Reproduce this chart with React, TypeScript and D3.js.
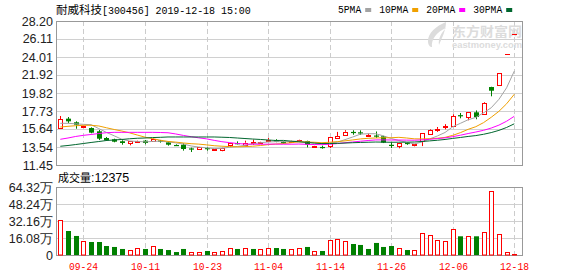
import React from "react";
import * as d3 from "d3";

const title = "耐威科技[300456] 2019-12-18 15:00";
const titleName = "耐威科技";
const titleRest = "[300456] 2019-12-18 15:00";
const volumeTitleName = "成交量";
const volumeTitleValue = ":12375";

const dates = [
  "09-19","09-20","09-23","09-24","09-25","09-26","09-27","09-30","10-08","10-09",
  "10-10","10-11","10-14","10-15","10-16","10-17","10-18","10-21","10-22","10-23",
  "10-24","10-25","10-28","10-29","10-30","10-31","11-01","11-04","11-05","11-06",
  "11-07","11-08","11-11","11-12","11-13","11-14","11-15","11-18","11-19","11-20",
  "11-21","11-22","11-25","11-26","11-27","11-28","11-29","12-02","12-03","12-04",
  "12-05","12-06","12-09","12-10","12-11","12-12","12-13","12-16","12-17","12-18",
];

const opens = [
  15.75,16.84,16.42,15.90,15.75,15.37,14.59,14.44,14.21,13.97,
  14.13,14.28,14.20,14.30,14.09,13.78,13.81,13.38,13.28,13.42,
  13.16,13.22,13.70,14.00,13.81,14.05,14.08,14.32,14.36,14.16,
  14.10,14.24,14.24,13.58,13.55,13.58,14.56,14.97,15.30,15.25,
  14.90,14.88,14.79,13.80,13.62,14.02,13.75,14.21,15.00,15.55,
  15.90,16.02,17.25,16.95,17.58,17.38,20.52,20.76,24.31,26.74,
];
const highs = [
  17.15,17.03,16.53,16.05,15.83,15.52,14.71,14.51,14.32,14.24,
  14.32,14.36,14.50,14.36,14.21,13.85,13.97,13.47,13.55,13.57,
  13.28,13.47,14.00,14.20,14.28,14.40,14.15,14.59,14.45,14.20,
  14.28,14.42,14.28,13.72,13.70,14.67,15.30,15.50,15.49,15.48,
  15.10,15.35,14.85,14.10,14.00,14.10,13.90,15.17,15.60,15.87,
  16.20,17.35,17.50,17.60,17.80,18.75,20.55,22.10,24.31,26.74,
];
const lows = [
  15.64,16.34,15.67,15.75,15.14,14.36,14.24,14.09,13.81,13.74,
  14.09,13.86,14.15,14.05,13.70,13.68,13.12,12.96,13.20,13.12,
  13.14,13.05,13.54,13.85,13.81,13.78,14.05,14.30,14.10,13.90,
  14.08,14.20,13.50,13.56,13.35,13.42,14.50,14.90,14.97,14.95,
  14.83,14.60,14.00,13.42,13.39,13.80,13.62,13.65,14.98,15.30,
  15.60,15.87,16.88,16.65,16.77,17.30,19.44,20.76,24.31,26.74,
];
const closes = [
  16.80,16.53,16.14,16.02,15.21,14.51,14.32,14.16,14.01,14.21,
  14.28,14.01,14.45,14.15,13.81,13.72,13.31,13.33,13.50,13.38,
  13.26,13.45,13.98,13.95,14.04,14.12,14.12,14.40,14.16,13.97,
  14.25,14.39,13.81,13.70,13.50,14.67,14.82,15.32,15.22,15.15,
  14.95,14.80,14.05,13.72,13.97,13.92,13.85,15.17,15.52,15.65,
  15.98,17.15,17.20,17.58,17.03,18.63,20.09,22.10,24.31,26.74,
];

// volume in 万
const volumes = [
  32.8,22.7,18.0,13.2,12.3,12.3,8.5,7.6,5.7,4.4,
  6.3,5.7,8.2,5.7,4.7,2.8,5.7,2.8,2.8,3.8,
  2.8,3.8,6.9,5.7,6.9,5.7,5.7,6.9,6.6,5.7,
  5.4,6.9,7.6,3.5,3.8,13.9,14.9,13.0,10.4,9.5,
  5.7,11.4,7.6,8.5,6.9,4.7,4.4,20.5,18.6,13.9,
  13.0,24.3,17.7,17.7,17.7,21.5,60.3,19.6,2.6,1.24,
];
const volumeUp = [
  1,0,0,1,0,0,0,0,0,1,
  1,0,1,0,0,0,0,1,1,0,
  1,1,1,0,1,0,1,1,0,0,
  1,1,0,1,0,1,1,1,0,0,
  0,0,0,0,1,0,1,1,1,1,
  1,1,0,1,0,1,1,1,1,1,
];

// moving-average values before enough visible closes exist
const ma5Lead = [16.30,16.30,16.24,16.18];
const ma10Lead = [15.87,15.95,16.02,16.07,16.07,15.99,15.78,15.58,15.40];
const ma20Lead = [14.44,14.59,14.77,14.90,15.00,15.11,15.21,15.25,15.25,15.25,
  15.25,15.25,15.25,15.23,15.20,15.06,14.89,14.74,14.61];
const ma30Lead = [13.63,13.72,13.83,13.95,14.07,14.18,14.30,14.36,14.42,14.50,
  14.56,14.59,14.64,14.67,14.71,14.71,14.71,14.71,14.71,14.71,
  14.71,14.68,14.65,14.59,14.53,14.47,14.42,14.36,14.30];

const priceTicks = [28.20, 26.11, 24.01, 21.92, 19.82, 17.73, 15.64, 13.54, 11.45];
const volumeTicks = [64.32, 48.24, 32.16, 16.08, 0];
const volumeTickLabels = ["64.32万", "48.24万", "32.16万", "16.08万", "0"];
const xTickLabels = ["09-24", "10-11", "10-23", "11-04", "11-14", "11-26", "12-06", "12-18"];

const maPeriods = [5, 10, 20, 30];
const maLabels = ["5PMA", "10PMA", "20PMA", "30PMA"];
const maColors = ["#a3a3a3", "#f0a000", "#ff00ff", "#00662e"];
const maLeads = [ma5Lead, ma10Lead, ma20Lead, ma30Lead];

const RED = "#ff0000";
const GREEN = "#008000";

function movingAverage(n: number, lead: number[]) {
  return closes.map((_, i) => {
    if (i < n - 1) return lead[i];
    let s = 0;
    for (let k = i - n + 1; k <= i; k++) s += closes[k];
    return s / n;
  });
}

export default function App() {
  const W = 578, H = 276;
  const L = 56, R = 522;
  const pTop = 21, pBot = 165, vTop = 187, vBot = 255;

  const x = d3.scalePoint<string>().domain(dates).range([60.3, 514.3]);
  const y = d3.scaleLinear().domain([11.45, 28.2]).range([pBot, pTop]);
  const yv = d3.scaleLinear().domain([0, 64.32]).range([vBot, vTop]);

  const cx = (i: number) => Math.round(x(dates[i]) as number);
  const sharp = (v: number) => Math.round(v) + 0.5;

  const maSeries = maPeriods.map((n, k) => movingAverage(n, maLeads[k]));
  const line = d3
    .line<number>()
    .x((_, i) => x(dates[i]) as number)
    .y((d) => y(d));

  const font = "'Liberation Sans', Arial, sans-serif";
  const mono = "'Liberation Mono', 'DejaVu Sans Mono', monospace";
  const cjk = "'Noto Sans CJK SC', sans-serif";

  // legend layout
  const charW = 5.8;
  let cursor = 338;
  const legend = maLabels.map((lab, k) => {
    const tx = cursor;
    const tw = lab.length * charW;
    const sx = tx + tw + 4;
    cursor = sx + 6 + 8;
    return { lab, tx, tw, sx, color: maColors[k] };
  });

  const tickIdx = xTickLabels.map((d) => dates.indexOf(d));

  return (
    <svg
      width={W}
      height={H}
      viewBox={`0 0 ${W} ${H}`}
      style={{ position: "absolute", left: 0, top: 0, background: "#fff" }}
      aria-label={title}
    >
      <rect x={0} y={0} width={W} height={H} fill="#fff" />

      {/* title */}
      <text x={56} y={14} fontSize={12} fill="#000">
        <tspan fontFamily={cjk} fontSize={11.5}>{titleName}</tspan>
        <tspan fontFamily={mono} fontSize={10} textLength={titleRest.length * 5.95}>{titleRest}</tspan>
      </text>

      {/* legend */}
      {legend.map((g) => (
        <g key={g.lab}>
          <text x={g.tx} y={13} fontFamily={mono} fontSize={10} fill="#000" textLength={g.tw} lengthAdjust="spacingAndGlyphs">
            {g.lab}
          </text>
          <rect x={g.sx} y={8} width={6} height={4} fill={g.color} />
        </g>
      ))}

      {/* price grid */}
      {priceTicks.slice(1, -1).map((t) => (
        <line key={"pg" + t} x1={L} x2={R} y1={sharp(y(t))} y2={sharp(y(t))} stroke="#d0d0d0" />
      ))}
      {volumeTicks.slice(1, -1).map((t) => (
        <line key={"vg" + t} x1={L} x2={R} y1={sharp(yv(t))} y2={sharp(yv(t))} stroke="#d0d0d0" />
      ))}
      {tickIdx.map((i) => (
        <g key={"vx" + i}>
          <line x1={cx(i) + 0.5} x2={cx(i) + 0.5} y1={pTop} y2={pBot} stroke="#cccccc" strokeDasharray="5,3" />
          <line x1={cx(i) + 0.5} x2={cx(i) + 0.5} y1={vTop} y2={vBot} stroke="#cccccc" strokeDasharray="5,3" />
        </g>
      ))}

      {/* watermark */}
      <g fill="#dcdcdc">
        <path d="M446,22 C436,26 428,33 428,41 C428,45 430,47 432,47 C431,40 436,32 446,28 C441,33 438,39 439,45 C442,38 446,30 446,22 Z" />
        <text x={452} y={36} fontFamily={cjk} fontWeight="bold" fontSize={13} textLength={70} lengthAdjust="spacingAndGlyphs">东方财富网</text>
        <text x={452} y={48} fontFamily={font} fontWeight="bold" fontSize={9.5} textLength={70} lengthAdjust="spacingAndGlyphs">eastmoney.com</text>
      </g>

      {/* borders */}
      <rect x={L + 0.5} y={pTop + 0.5} width={R - L} height={pBot - pTop} fill="none" stroke="#999" />
      <rect x={L + 0.5} y={vTop + 0.5} width={R - L} height={vBot - vTop} fill="none" stroke="#999" />

      {/* price axis labels */}
      {priceTicks.map((t) => (
        <text key={"pl" + t} x={53} y={y(t)} dy="0.36em" textAnchor="end" fontFamily={font} fontSize={12.5} fill="#222">
          {t.toFixed(2)}
        </text>
      ))}

      {/* volume axis labels */}
      {volumeTicks.map((t, k) => (
        <text key={"vl" + t} x={53} y={yv(t)} dy="0.36em" textAnchor="end" fontFamily={font} fontSize={12.5} fill="#222">
          {volumeTickLabels[k]}
        </text>
      ))}

      {/* volume title */}
      <text x={58} y={181.5} fill="#000">
        <tspan fontFamily={cjk} fontSize={11}>{volumeTitleName}</tspan>
        <tspan fontFamily={font} fontSize={12.5}>{volumeTitleValue}</tspan>
      </text>

      {/* candles */}
      {closes.map((c, i) => {
        const o = opens[i], h = highs[i], l = lows[i];
        const X = cx(i);
        const up = c > o;
        const flat = c === o;
        const col = up || flat ? RED : GREEN;
        const yo = y(o), yc = y(c), yh = y(h), yl = y(l);
        if (flat) {
          return (
            <g key={"c" + i}>
              {h !== l && <line x1={X + 0.5} x2={X + 0.5} y1={yh} y2={yl} stroke={col} />}
              <line x1={X - 2} x2={X + 3} y1={sharp(yc)} y2={sharp(yc)} stroke={col} />
            </g>
          );
        }
        const top = Math.min(yo, yc), bot = Math.max(yo, yc);
        const bh = Math.max(1, bot - top);
        if (up) {
          return (
            <g key={"c" + i}>
              <line x1={X + 0.5} x2={X + 0.5} y1={yh} y2={top} stroke={col} />
              <line x1={X + 0.5} x2={X + 0.5} y1={top + bh} y2={yl} stroke={col} />
              <rect x={X - 1.5} y={sharp(top)} width={4} height={Math.max(1, Math.round(bh))} fill="#fff" stroke={col} />
            </g>
          );
        }
        return (
          <g key={"c" + i}>
            <line x1={X + 0.5} x2={X + 0.5} y1={yh} y2={yl} stroke={col} />
            <rect x={X - 2} y={top} width={5} height={Math.max(1.2, bh)} fill={col} />
          </g>
        );
      })}

      {/* moving averages */}
      {maSeries.map((s, k) => (
        <path key={"ma" + k} d={line(s) || ""} fill="none" stroke={maColors[k]} strokeWidth={1} />
      ))}

      {/* volume bars */}
      {volumes.map((v, i) => {
        const X = cx(i);
        const top = yv(v);
        const h = vBot - top;
        if (volumeUp[i]) {
          return (
            <rect key={"v" + i} x={X - 1.5} y={sharp(top)} width={4} height={Math.max(0.5, Math.round(h) - 0.5)} fill="#fff" stroke={RED} />
          );
        }
        return <rect key={"v" + i} x={X - 2} y={top} width={5} height={h} fill={GREEN} />;
      })}

      {/* x labels */}
      {tickIdx.map((i, k) => (
        <text key={"xl" + i} x={cx(i) + 0.5} y={270} textAnchor="middle" fontFamily={mono} fontSize={10.5} fill={RED} textLength={29} lengthAdjust="spacingAndGlyphs">
          {xTickLabels[k]}
        </text>
      ))}
    </svg>
  );
}
